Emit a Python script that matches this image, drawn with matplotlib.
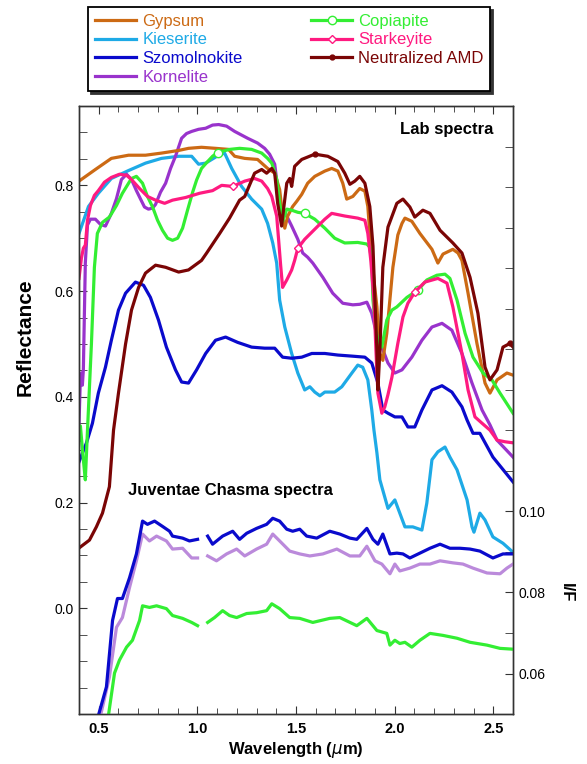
import numpy as np
import matplotlib
matplotlib.use("Agg")
import matplotlib.pyplot as plt

plt.rcParams['font.family'] = ['Liberation Sans', 'DejaVu Sans']

# ---------------- lab spectra (reflectance, left axis) ----------------
gypsum_wl = [0.40, 0.483, 0.564, 0.651, 0.737, 0.818, 0.905, 0.955, 1.021, 1.092, 1.158, 1.189, 1.24,
             1.305, 1.356, 1.392, 1.417, 1.432, 1.443, 1.458, 1.483, 1.504, 1.529, 1.559, 1.595, 1.646,
             1.681, 1.712, 1.737, 1.757, 1.788, 1.823, 1.849, 1.864, 1.874, 1.895, 1.91, 1.925, 1.94,
             1.96, 1.991, 2.016, 2.037, 2.052, 2.087, 2.128, 2.189, 2.219, 2.245, 2.295, 2.321, 2.341,
             2.372, 2.417, 2.458, 2.483, 2.519, 2.569, 2.6]
gypsum_r = [0.808, 0.83, 0.851, 0.857, 0.857, 0.861, 0.866, 0.87, 0.872, 0.87, 0.868, 0.855, 0.851,
            0.849, 0.832, 0.823, 0.792, 0.742, 0.719, 0.742, 0.76, 0.77, 0.783, 0.804, 0.817, 0.827,
            0.832, 0.827, 0.804, 0.774, 0.779, 0.794, 0.789, 0.76, 0.709, 0.621, 0.57, 0.482, 0.469,
            0.52, 0.645, 0.706, 0.728, 0.738, 0.732, 0.709, 0.679, 0.653, 0.67, 0.679, 0.672, 0.658,
            0.596, 0.501, 0.426, 0.407, 0.432, 0.445, 0.441]

kieserite_wl = [0.40, 0.448, 0.498, 0.564, 0.651, 0.737, 0.818, 0.905, 0.971, 1.006, 1.042, 1.108, 1.138,
                1.174, 1.224, 1.275, 1.326, 1.356, 1.382, 1.402, 1.417, 1.443, 1.478, 1.509, 1.544, 1.57,
                1.595, 1.621, 1.646, 1.696, 1.732, 1.783, 1.813, 1.838, 1.864, 1.884, 1.895, 1.91, 1.925,
                1.966, 2.001, 2.026, 2.052, 2.092, 2.138, 2.163, 2.189, 2.219, 2.255, 2.28, 2.316, 2.367,
                2.392, 2.402, 2.432, 2.458, 2.498, 2.549, 2.6]
kieserite_r = [0.709, 0.76, 0.785, 0.813, 0.828, 0.842, 0.851, 0.855, 0.855, 0.84, 0.842, 0.857, 0.861,
               0.832, 0.798, 0.774, 0.755, 0.728, 0.691, 0.653, 0.583, 0.532, 0.482, 0.445, 0.413, 0.419,
               0.409, 0.402, 0.409, 0.409, 0.419, 0.445, 0.46, 0.456, 0.432, 0.375, 0.337, 0.294, 0.243,
               0.189, 0.205, 0.18, 0.154, 0.154, 0.148, 0.199, 0.281, 0.296, 0.305, 0.286, 0.262, 0.205,
               0.154, 0.144, 0.18, 0.167, 0.135, 0.123, 0.106]

szomol_wl = [0.40, 0.438, 0.468, 0.498, 0.534, 0.564, 0.60, 0.636, 0.686, 0.727, 0.762, 0.803, 0.843,
             0.889, 0.92, 0.955, 0.996, 1.042, 1.092, 1.143, 1.204, 1.275, 1.341, 1.392, 1.432, 1.478,
             1.529, 1.58, 1.646, 1.712, 1.783, 1.849, 1.884, 1.915, 1.94, 1.966, 2.001, 2.037, 2.067,
             2.102, 2.138, 2.189, 2.24, 2.29, 2.341, 2.367, 2.397, 2.432, 2.498, 2.6]
szomol_r = [0.277, 0.313, 0.35, 0.407, 0.456, 0.507, 0.564, 0.596, 0.617, 0.611, 0.588, 0.545, 0.494,
            0.451, 0.428, 0.426, 0.451, 0.482, 0.507, 0.513, 0.503, 0.494, 0.492, 0.492, 0.475, 0.473,
            0.475, 0.482, 0.482, 0.479, 0.477, 0.475, 0.464, 0.426, 0.375, 0.369, 0.362, 0.362, 0.343,
            0.343, 0.375, 0.413, 0.421, 0.409, 0.381, 0.356, 0.331, 0.331, 0.286, 0.239]

kornelite_wl = [0.40, 0.407, 0.412, 0.417, 0.422, 0.432, 0.443, 0.458, 0.483, 0.509, 0.534, 0.564, 0.59,
                0.615, 0.641, 0.666, 0.691, 0.712, 0.732, 0.752, 0.773, 0.788, 0.813, 0.839, 0.864, 0.889,
                0.92, 0.945, 0.971, 1.006, 1.042, 1.077, 1.108, 1.148, 1.189, 1.255, 1.305, 1.341, 1.366,
                1.392, 1.402, 1.407, 1.427, 1.453, 1.478, 1.509, 1.534, 1.559, 1.585, 1.636, 1.686, 1.737,
                1.788, 1.823, 1.859, 1.884, 1.90, 1.915, 1.935, 1.966, 2.001, 2.037, 2.087, 2.138, 2.189,
                2.24, 2.29, 2.341, 2.392, 2.443, 2.483, 2.519, 2.6]
kornelite_r = [0.35, 0.435, 0.445, 0.422, 0.451, 0.653, 0.725, 0.736, 0.736, 0.726, 0.723, 0.747, 0.775,
               0.811, 0.821, 0.811, 0.79, 0.774, 0.759, 0.755, 0.757, 0.764, 0.787, 0.804, 0.832, 0.855,
               0.889, 0.898, 0.902, 0.906, 0.908, 0.914, 0.915, 0.912, 0.902, 0.889, 0.88, 0.87, 0.859,
               0.84, 0.81, 0.779, 0.755, 0.742, 0.723, 0.698, 0.672, 0.664, 0.653, 0.626, 0.596, 0.577,
               0.574, 0.575, 0.579, 0.558, 0.532, 0.507, 0.494, 0.464, 0.445, 0.451, 0.475, 0.507, 0.532,
               0.539, 0.526, 0.482, 0.426, 0.375, 0.347, 0.318, 0.286]

copiapite_wl = [0.40, 0.407, 0.422, 0.432, 0.443, 0.463, 0.478, 0.493, 0.519, 0.554, 0.59, 0.62, 0.666,
                0.691, 0.722, 0.747, 0.773, 0.798, 0.823, 0.849, 0.874, 0.90, 0.925, 0.95, 0.976, 0.996,
                1.021, 1.047, 1.077, 1.102, 1.163, 1.214, 1.275, 1.326, 1.356, 1.377, 1.392, 1.402, 1.417,
                1.432, 1.453, 1.478, 1.509, 1.544, 1.595, 1.646, 1.696, 1.747, 1.813, 1.859, 1.874, 1.884,
                1.89, 1.905, 1.915, 1.935, 1.96, 1.986, 2.011, 2.062, 2.118, 2.163, 2.214, 2.255, 2.28,
                2.316, 2.357, 2.397, 2.448, 2.493, 2.534, 2.6]
copiapite_r = [0.318, 0.345, 0.281, 0.243, 0.337, 0.501, 0.645, 0.709, 0.73, 0.74, 0.762, 0.785, 0.813,
               0.817, 0.804, 0.779, 0.759, 0.734, 0.715, 0.70, 0.696, 0.70, 0.719, 0.753, 0.787, 0.81,
               0.832, 0.843, 0.855, 0.862, 0.868, 0.87, 0.868, 0.861, 0.851, 0.842, 0.825, 0.811, 0.766,
               0.732, 0.755, 0.753, 0.749, 0.747, 0.736, 0.719, 0.70, 0.691, 0.692, 0.689, 0.683, 0.653,
               0.583, 0.526, 0.507, 0.494, 0.545, 0.564, 0.57, 0.588, 0.602, 0.621, 0.63, 0.632, 0.624,
               0.583, 0.52, 0.475, 0.445, 0.432, 0.407, 0.369]
copiapite_marks = [1.102, 1.544, 2.118]

starkeyite_wl = [0.40, 0.412, 0.422, 0.432, 0.443, 0.458, 0.478, 0.498, 0.529, 0.564, 0.605, 0.641, 0.666,
                 0.707, 0.747, 0.788, 0.834, 0.874, 0.94, 1.011, 1.077, 1.123, 1.179, 1.24, 1.29, 1.326,
                 1.356, 1.377, 1.402, 1.412, 1.422, 1.432, 1.453, 1.478, 1.493, 1.509, 1.544, 1.595, 1.646,
                 1.681, 1.747, 1.813, 1.849, 1.864, 1.879, 1.895, 1.905, 1.915, 1.935, 1.95, 1.966, 1.986,
                 2.016, 2.042, 2.067, 2.102, 2.153, 2.219, 2.265, 2.295, 2.341, 2.372, 2.407, 2.443, 2.483,
                 2.519, 2.559, 2.6]
starkeyite_r = [0.624, 0.662, 0.681, 0.687, 0.734, 0.762, 0.781, 0.79, 0.806, 0.815, 0.821, 0.819, 0.811,
                0.794, 0.779, 0.772, 0.766, 0.772, 0.777, 0.785, 0.79, 0.80, 0.798, 0.808, 0.813, 0.808,
                0.794, 0.779, 0.742, 0.696, 0.649, 0.607, 0.621, 0.64, 0.658, 0.681, 0.698, 0.717, 0.736,
                0.747, 0.742, 0.738, 0.734, 0.709, 0.658, 0.583, 0.488, 0.407, 0.369, 0.381, 0.404, 0.437,
                0.501, 0.551, 0.577, 0.598, 0.617, 0.624, 0.615, 0.57, 0.482, 0.413, 0.362, 0.35, 0.337,
                0.318, 0.315, 0.313]
starkeyite_marks = [1.179, 1.509, 2.102]

amd_wl = [0.40, 0.453, 0.488, 0.519, 0.554, 0.575, 0.60, 0.636, 0.666, 0.702, 0.737, 0.788, 0.839, 0.905,
          0.955, 1.021, 1.047, 1.113, 1.163, 1.214, 1.24, 1.29, 1.326, 1.351, 1.377, 1.392, 1.407, 1.427,
          1.437, 1.453, 1.468, 1.478, 1.493, 1.529, 1.595, 1.661, 1.712, 1.747, 1.773, 1.798, 1.823,
          1.849, 1.874, 1.89, 1.90, 1.91, 1.915, 1.925, 1.94, 1.966, 2.011, 2.042, 2.077, 2.102, 2.143,
          2.179, 2.23, 2.295, 2.341, 2.382, 2.422, 2.458, 2.483, 2.519, 2.549, 2.584, 2.6]
amd_r = [0.114, 0.129, 0.154, 0.18, 0.23, 0.337, 0.407, 0.50, 0.564, 0.607, 0.634, 0.649, 0.645, 0.636,
         0.64, 0.658, 0.672, 0.709, 0.738, 0.772, 0.779, 0.823, 0.83, 0.823, 0.832, 0.823, 0.766, 0.723,
         0.755, 0.804, 0.813, 0.798, 0.836, 0.849, 0.859, 0.855, 0.845, 0.823, 0.802, 0.808, 0.817,
         0.804, 0.76, 0.685, 0.583, 0.488, 0.413, 0.488, 0.645, 0.721, 0.766, 0.774, 0.759, 0.74, 0.753,
         0.747, 0.715, 0.691, 0.672, 0.626, 0.558, 0.456, 0.432, 0.451, 0.494, 0.501, 0.494]
amd_marks = [1.595, 2.584]

# ---------------- Juventae Chasma spectra (I/F, right axis) ----------------
juv_blue_wl = [0.498, 0.539, 0.57, 0.595, 0.62, 0.656, 0.691, 0.722, 0.747, 0.783, 0.823, 0.859, 0.874,
               0.925, 0.96, 1.001, 1.025, 1.052, 1.077, 1.128, 1.179, 1.214, 1.25, 1.30, 1.351, 1.382,
               1.417, 1.453, 1.483, 1.519, 1.554, 1.605, 1.671, 1.722, 1.773, 1.808, 1.859, 1.89, 1.915,
               1.94, 1.976, 2.011, 2.042, 2.077, 2.128, 2.179, 2.23, 2.28, 2.331, 2.382, 2.432, 2.498,
               2.549, 2.6]
juv_blue_if = [0.0496, 0.0567, 0.0731, 0.0785, 0.0785, 0.0836, 0.0895, 0.0976, 0.0968, 0.0976, 0.0963,
               0.0951, 0.0939, 0.0934, 0.0927, 0.0931, np.nan, 0.0939, 0.0919, 0.0939, 0.0951, 0.0931,
               0.0946, 0.0958, 0.0968, 0.0983, 0.0976, 0.0956, 0.0951, 0.0956, 0.0939, 0.0934, 0.0951,
               0.0944, 0.0934, 0.0931, 0.0958, 0.0931, 0.0919, 0.0944, 0.0895, 0.0897, 0.0895, 0.0885,
               0.0897, 0.0909, 0.0919, 0.0909, 0.0909, 0.0907, 0.0902, 0.0885, 0.0895, 0.0895]

juv_purple_wl = [0.509, 0.554, 0.59, 0.62, 0.656, 0.691, 0.722, 0.757, 0.793, 0.843, 0.874, 0.925, 0.971,
                 1.001, 1.025, 1.052, 1.097, 1.148, 1.199, 1.24, 1.30, 1.351, 1.382, 1.417, 1.468, 1.519,
                 1.57, 1.636, 1.707, 1.773, 1.823, 1.859, 1.90, 1.935, 1.976, 2.001, 2.026, 2.077, 2.128,
                 2.179, 2.23, 2.295, 2.346, 2.397, 2.468, 2.534, 2.569, 2.6]
juv_purple_if = [0.0496, 0.0591, 0.0714, 0.0738, 0.0812, 0.0878, 0.0944, 0.0927, 0.0939, 0.0927, 0.0907,
                 0.0909, 0.0885, 0.0885, np.nan, 0.089, 0.0878, 0.0895, 0.0907, 0.089, 0.0907, 0.0919,
                 0.0944, 0.0927, 0.0902, 0.0895, 0.089, 0.0895, 0.0907, 0.089, 0.089, 0.0914, 0.0878,
                 0.087, 0.0846, 0.087, 0.0853, 0.086, 0.087, 0.087, 0.0878, 0.0873, 0.087, 0.086, 0.0848,
                 0.0846, 0.086, 0.087]

juv_green_wl = [0.549, 0.58, 0.605, 0.641, 0.671, 0.707, 0.722, 0.757, 0.793, 0.843, 0.874, 0.925, 0.971,
                1.001, 1.025, 1.052, 1.087, 1.128, 1.163, 1.199, 1.25, 1.30, 1.351, 1.377, 1.417, 1.468,
                1.519, 1.585, 1.671, 1.722, 1.808, 1.859, 1.91, 1.96, 1.976, 2.001, 2.026, 2.052, 2.087,
                2.128, 2.179, 2.245, 2.316, 2.382, 2.468, 2.534, 2.6]
juv_green_if = [0.0496, 0.0601, 0.0633, 0.0665, 0.0682, 0.0731, 0.0767, 0.0763, 0.0767, 0.076, 0.0743,
                0.0736, 0.0726, 0.0718, np.nan, 0.0726, 0.0738, 0.0755, 0.0743, 0.0738, 0.0748, 0.075,
                0.0755, 0.0772, 0.076, 0.0738, 0.0736, 0.0726, 0.0736, 0.0738, 0.0718, 0.0736, 0.0706,
                0.0699, 0.067, 0.0682, 0.0674, 0.0677, 0.0665, 0.0682, 0.0699, 0.0694, 0.0687, 0.0677,
                0.067, 0.0662, 0.066]


def mark_idx(wl, marks):
    wl = np.asarray(wl)
    return [int(np.argmin(np.abs(wl - m))) for m in marks]


fig = plt.figure(figsize=(5.87, 7.64), dpi=100)
ax = fig.add_axes([0.1346, 0.0654, 0.7394, 0.7958])
ax2 = ax.twinx()

lw = 2.3
c_gyp, c_kie, c_szo, c_kor = '#CC6A14', '#1EAAE6', '#0A0ACC', '#9933CC'
c_cop, c_sta, c_amd = '#33EE33', '#FF1A80', '#7A0505'

l_kie, = ax.plot(kieserite_wl, kieserite_r, color=c_kie, lw=lw)
l_szo, = ax.plot(szomol_wl, szomol_r, color=c_szo, lw=lw)
l_kor, = ax.plot(kornelite_wl, kornelite_r, color=c_kor, lw=lw)
l_gyp, = ax.plot(gypsum_wl, gypsum_r, color=c_gyp, lw=lw)
l_cop, = ax.plot(copiapite_wl, copiapite_r, color=c_cop, lw=lw, marker='o', ms=6,
                 mfc='white', mec=c_cop, mew=1, markevery=mark_idx(copiapite_wl, copiapite_marks))
l_sta, = ax.plot(starkeyite_wl, starkeyite_r, color=c_sta, lw=lw, marker='D', ms=4,
                 mfc='white', mec=c_sta, mew=1, markevery=mark_idx(starkeyite_wl, starkeyite_marks))
l_amd, = ax.plot(amd_wl, amd_r, color=c_amd, lw=lw, marker='o', ms=3.5,
                 mfc=c_amd, mec=c_amd, markevery=mark_idx(amd_wl, amd_marks))

ax2.plot(juv_purple_wl, juv_purple_if, color='#BB8ADB', lw=lw)
ax2.plot(juv_blue_wl, juv_blue_if, color=c_szo, lw=lw)
ax2.plot(juv_green_wl, juv_green_if, color=c_cop, lw=lw)

ax.set_xlim(0.4, 2.6)
ax.set_ylim(-0.2, 0.95)
ax2.set_ylim(0.05, 0.2)

ax.set_xticks([0.5, 1.0, 1.5, 2.0, 2.5])
ax.set_xticks(np.arange(0.4, 2.61, 0.1), minor=True)
ax.set_xticklabels(['0.5', '1.0', '1.5', '2.0', '2.5'], fontweight='bold', fontsize=10.5)
ax.set_yticks([0.0, 0.2, 0.4, 0.6, 0.8])
ax.set_yticks(np.arange(-0.2, 0.951, 0.05), minor=True)
ax.set_yticklabels(['0.0', '0.2', '0.4', '0.6', '0.8'], fontsize=10)
ax2.set_yticks([0.06, 0.08, 0.10])
ax2.set_yticks(np.arange(0.05, 0.201, 0.01), minor=True)
ax2.set_yticklabels(['0.06', '0.08', '0.10'], fontsize=10)

ax.tick_params(axis='both', which='both', direction='in', top=True, right=False, color='#333333')
ax.tick_params(axis='x', which='major', length=6, pad=6)
ax.tick_params(axis='x', which='minor', length=4)
ax.tick_params(axis='y', which='both', length=6, pad=4)
ax2.tick_params(axis='y', which='both', direction='in', length=6, pad=4, color='#333333')

for a in (ax, ax2):
    for s in a.spines.values():
        s.set_color('#333333')
        s.set_linewidth(1.0)

ax.set_xlabel('Wavelength ($\\mu$m)', fontsize=12, fontweight='bold', va='center')
ax.xaxis.set_label_coords(0.5, -0.059)
ax.set_ylabel('Reflectance', fontsize=15, fontweight='bold', va='center')
ax.yaxis.set_label_coords(-0.124, 0.62)
ax2.set_ylabel('I/F', fontsize=12, fontweight='bold', rotation=-90, va='center')
ax2.yaxis.set_label_coords(1.124, 0.20)

ax.text(2.5, 0.905, 'Lab spectra', fontsize=12, fontweight='bold', ha='right', va='center')
ax.text(0.647, 0.222, 'Juventae Chasma spectra', fontsize=12, fontweight='bold', ha='left', va='center')

handles = [l_gyp, l_kie, l_szo, l_kor, l_cop, l_sta, l_amd]
labels = ['Gypsum', 'Kieserite', 'Szomolnokite', 'Kornelite', 'Copiapite', 'Starkeyite', 'Neutralized AMD']
leg = fig.legend(handles, labels, loc='upper left', bbox_to_anchor=(88 / 587, 1 - 7 / 764),
                 borderaxespad=0, ncol=2, fontsize=12, frameon=True, fancybox=False,
                 shadow={'color': '0.2', 'alpha': 1.0}, handlelength=2.5, handletextpad=0.35,
                 labelspacing=0.22, columnspacing=4.1, borderpad=0.4)
leg.get_frame().set_edgecolor('black')
leg.get_frame().set_linewidth(1.3)
for txt, h in zip(leg.get_texts(), handles):
    txt.set_color(h.get_color())

fig.savefig('out.png', dpi=100)
